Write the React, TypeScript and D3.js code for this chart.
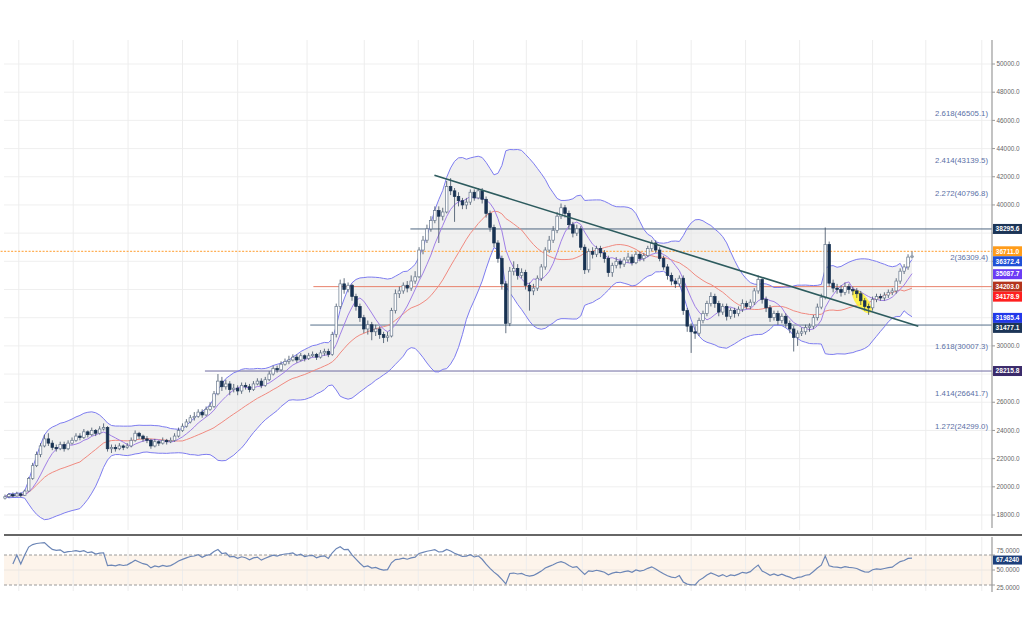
import React from 'react';
import * as d3 from 'd3';

// ---------- DATA ----------
const firstOpen = 19200;
const closes = [
  19300, 19450, 19350, 19500, 19400,
  19700, 20600, 21500, 22300, 22900, 23400,
  23100, 22800, 22700,
  23000, 22700, 23100, 23300, 23600, 23500,
  23900, 23700, 24000, 23800, 24100, 24200,
  22700,
  22800, 22700, 22900, 22800, 22900,
  23300, 23800, 23600, 23400,
  23300, 22900, 23200, 23100, 23300,
  23200, 23300, 23600, 24000,
  24300, 24600, 24900, 25000, 25300, 25100, 25500, 25700,
  26600, 27500, 27100, 27300,
  26900, 27000, 26800, 27200, 27100, 26900, 27300, 27500, 27200,
  27600, 28000, 28400, 28300, 28700, 28900, 29000, 29200, 29000,
  29300, 29100, 29300, 29400, 29200, 29500, 29600, 29400,
  30800, 32800, 34400,
  34000, 34300, 33500, 32800,
  32000, 31200, 31500,
  31000, 31200, 30800, 30600, 30700,
  32500, 33700,
  33900, 34300, 34100, 34600, 34900,
  36800, 37500, 38300, 38900,
  39600, 39200, 39500,
  41300, 41000,
  40600, 40300, 40000, 40200,
  40900, 40500, 41000, 40400,
  39400, 38400, 37300, 36200, 34400,
  31600,
  35300, 35500, 35000, 35200,
  34300, 33900, 34100,
  34800, 35600, 36800, 37500, 38200, 39200,
  39800, 39400, 38600, 38000, 38300,
  37000, 35400,
  36700, 36500, 36900, 36600, 36200,
  35200, 35700, 36000, 35800, 36100,
  36300, 35900, 36500, 36200, 36400,
  36900, 37300, 36800, 36200, 35600,
  35000, 34600, 34400, 34800,
  32500, 31400, 31000, 30900,
  31800, 32300, 33000, 33500,
  33000, 32400, 32800, 32100, 32500, 32300,
  32600, 33000, 32800, 33100, 33900, 34700,
  33300, 32700, 32000, 32300, 31800, 32100, 31600,
  31200, 30600, 30900, 31000, 31300, 31400,
  32000, 32750, 33450,
  37200, 34450,
  34100, 34000, 33800, 34200, 34000,
  33900, 33700,
  33200, 32800, 32700,
  33300, 33500, 33400,
  33600, 33800, 33900, 34600,
  35300, 35600, 36300, 36372.4,
];
const highs = [
  19450, 19550, 19600, 19650, 19600, 19800, 20700, 21700, 22500, 23100,
  23700, 23800, 23300, 23000, 23200, 23200, 23300, 23500, 23800, 23800,
  24100, 24000, 24200, 24100, 24300, 24500, 24300, 23000, 23000, 23100,
  23000, 23100, 23500, 24000, 23900, 23700, 23600, 23400, 23400, 23300,
  23500, 23400, 23500, 23800, 24200, 24500, 24800, 25100, 25300, 25500,
  25500, 25700, 26000, 26800, 28000, 27800, 27600, 27500, 27300, 27200,
  27400, 27400, 27300, 27500, 27700, 27700, 27800, 28200, 28600, 28600,
  28900, 29100, 29300, 29400, 29400, 29500, 29400, 29500, 29600, 29500,
  29700, 29800, 29800, 31000, 33000, 34700, 34800, 34500, 34400, 33700,
  33000, 32200, 31800, 31700, 31500, 31400, 31000, 31000, 32700, 34000,
  34200, 34500, 34600, 35000, 35300, 37000, 37800, 38600, 39200, 39900,
  39900, 39800, 41700, 41900, 41200, 40900, 40500, 40500, 41100, 41100,
  41200, 41200, 40600, 39600, 38600, 37500, 36400, 34600, 35600, 36000,
  35800, 35500, 35400, 34500, 34400, 35000, 35800, 37000, 37800, 38500,
  39500, 40100, 40000, 39600, 38800, 38600, 38500, 37200, 36900, 37000,
  37100, 37100, 36800, 36400, 35900, 36300, 36200, 36300, 36600, 36500,
  36700, 36700, 36600, 37100, 37500, 37500, 37000, 36400, 35800, 35200,
  34800, 35000, 35000, 32700, 31600, 31400, 32000, 32500, 33200, 33800,
  33700, 33200, 33000, 33000, 32700, 32700, 32800, 33300, 33200, 33300,
  34100, 35000, 34800, 33500, 32900, 32500, 32500, 32300, 32300, 31800,
  31400, 31100, 31300, 31500, 31600, 32200, 33000, 33700, 38400, 37400,
  34700, 34400, 34300, 34500, 34400, 34200, 34100, 33900, 33400, 33000,
  33500, 33700, 33700, 33800, 34000, 34100, 34800, 35500, 35800, 36500,
  36700,
];
const lows = [
  19100, 19200, 19250, 19300, 19250, 19350, 19650, 20500, 21400, 22100,
  22800, 22900, 22600, 22500, 22600, 22500, 22600, 23000, 23200, 23300,
  23400, 23500, 23600, 23600, 23700, 24000, 22500, 22400, 22500, 22600,
  22600, 22700, 22800, 23200, 23400, 23200, 23100, 22700, 22800, 22900,
  23000, 23000, 23100, 23200, 23500, 23900, 24200, 24500, 24700, 24900,
  24900, 25000, 25400, 25600, 26500, 26800, 26900, 26500, 26700, 26500,
  26600, 26900, 26700, 26800, 27200, 27000, 27100, 27500, 27900, 28100,
  28200, 28600, 28700, 28900, 28800, 28900, 28900, 29000, 29200, 29000,
  29100, 29300, 29200, 29300, 30600, 32600, 33700, 33800, 33200, 32500,
  31700, 30900, 30800, 30400, 30700, 30500, 30200, 30300, 30600, 32300,
  33400, 33700, 33800, 33900, 34400, 34800, 36500, 37300, 38100, 38700,
  37300, 38900, 39400, 40700, 38800, 39900, 39700, 39700, 40000, 40300,
  40400, 40100, 39100, 38100, 37000, 35900, 34000, 30900, 31400, 35000,
  34700, 34800, 34000, 32500, 33600, 33900, 34600, 35400, 36600, 37300,
  38000, 39000, 39100, 38300, 37700, 37800, 36800, 35100, 35200, 36200,
  36300, 36300, 35900, 34900, 34900, 35500, 35500, 35600, 35900, 35700,
  35800, 36000, 36000, 36300, 36700, 36600, 36000, 35400, 34700, 34300,
  34100, 34200, 32200, 31000, 29500, 30500, 30700, 31600, 32100, 32800,
  32700, 32100, 32200, 31800, 31900, 32000, 32100, 32400, 32600, 32600,
  32900, 33700, 33000, 32400, 31700, 31800, 31500, 31600, 31300, 30900,
  29600, 30000, 30700, 30800, 31000, 31200, 31800, 32600, 33300, 34200,
  33800, 33700, 33500, 33600, 33700, 33600, 33400, 32900, 32500, 32200,
  32500, 33100, 33200, 33200, 33400, 33600, 33700, 34400, 35100, 35400,
  36200,
];

const priceTicks = [50000, 48000, 46000, 44000, 42000, 40000, 38000, 36000, 34000, 32000, 30000, 28000, 26000, 24000, 22000, 20000, 18000];
// vertical time-grid positions, in candle index units
const timeGridIdx = [3.5, 17.3, 31.2, 45, 59, 76.6, 91.1, 104.8, 118.8, 132.2, 146.4, 160.2, 174, 187.8, 201.5, 220, 233.5, 247.7];

const fibRatios = ['2.618', '2.414', '2.272', '2', '1.618', '1.414', '1.272'];
const fibValues = [46505.1, 43139.5, 40796.8, 36309.4, 30007.3, 26641.7, 24299.0];

const levelValues = [38295.6, 36711.0, 34203.0, 31477.1, 28215.8];
const levelStartIdx = [102.8, -2, 78.2, 77.4, 50.7];

const tagValues = [38295.6, 36711.0, 36372.4, 35087.7, 34203.0, 34178.9, 31985.4, 31477.1, 28215.8];

const trendIdx = [108.9, 231.6];
const trendPrice = [42100, 31400];

const highlightIdx = 217.3;
const highlightPrice = 33150;

const rsiTicks = [75, 50, 25];
const rsiLastLabel = 67.424;
const rsiFirstDrawn = 2;

// ---------- STYLES ----------
const levelColors = ['#4d6680', '#ffb057', '#e8826c', '#56708a', '#6e6aa0'];
const levelDash = [null, '2,1.5', null, null, null];
const tagColors = ['#1c3557', '#ff9c1a', '#1f4fd6', '#6b3cf5', '#b3341d', '#ff1f1f', '#2238ea', '#1c3557', '#3b2b6b'];
const FONT = '"Liberation Sans", Arial, sans-serif';

export default function App() {
  const n = closes.length;
  const x = d3.scaleLinear().domain([0, n - 1]).range([5, 912]);
  const y = d3.scaleLinear().domain([18000, 50000]).range([515, 64]);
  const yr = d3.scaleLinear().domain([25, 75]).range([585, 555]);

  const opens = closes.map((c, i) => (i === 0 ? firstOpen : closes[i - 1]));

  const sma = (p: number) =>
    closes.map((_, i) => d3.mean(closes.slice(Math.max(0, i - p + 1), i + 1)) as number);
  const sma20 = sma(20);
  const sma7 = sma(7);
  const sd20 = closes.map((_, i) => {
    const w = closes.slice(Math.max(0, i - 19), i + 1);
    const m = d3.mean(w) as number;
    return Math.sqrt(d3.mean(w.map((v) => (v - m) * (v - m))) as number);
  });
  const upper = sma20.map((m, i) => m + 2 * sd20[i]);
  const lower = sma20.map((m, i) => m - 2 * sd20[i]);

  // RSI (Wilder, 14; averaged over the available changes while fewer than 14)
  const rsi: number[] = [50];
  let ag = 0, al = 0;
  for (let i = 1; i < n; i++) {
    const ch = closes[i] - closes[i - 1];
    const g = Math.max(ch, 0), l = Math.max(-ch, 0);
    const p = Math.min(i, 14);
    ag = (ag * (p - 1) + g) / p;
    al = (al * (p - 1) + l) / p;
    rsi.push(al === 0 ? 100 : 100 - 100 / (1 + ag / al));
  }

  const idx = d3.range(n);
  const lineGen = (arr: number[]) => d3.line<number>().x((i) => x(i)).y((i) => y(arr[i]))(idx) as string;
  const bandArea = d3.area<number>().x((i) => x(i)).y0((i) => y(lower[i])).y1((i) => y(upper[i]))(idx) as string;
  const rsiLine = d3.line<number>().x((i) => x(i)).y((i) => yr(rsi[i]))(idx.filter((i) => i >= rsiFirstDrawn)) as string;

  // tag positions with overlap resolution
  const tagY: number[] = [];
  tagValues.forEach((v, k) => {
    let yy = y(v);
    if (k > 0 && yy < tagY[k - 1] + 10) yy = tagY[k - 1] + 10;
    tagY.push(yy);
  });
  const tickHidden = (t: number) => tagY.some((ty) => Math.abs(ty - y(t)) < 8.5);

  const bw = 2.6;
  const axisX = 992;

  const hx = x(highlightIdx), hy = y(highlightPrice);

  return (
    <svg width={1024} height={630} style={{ position: 'absolute', left: 0, top: 0, background: '#fff' }} fontFamily={FONT}>
      <defs>
        <clipPath id="rsiClip">
          <rect x={0} y={537} width={1024} height={54} />
        </clipPath>
        <clipPath id="mainClip">
          <rect x={0} y={40} width={axisX} height={490} />
        </clipPath>
      </defs>
      <rect x={0} y={0} width={1024} height={630} fill="#fff" />

      {/* grid main */}
      {priceTicks.map((t) => (
        <line key={'h' + t} x1={4} x2={axisX} y1={y(t)} y2={y(t)} stroke="#efefef" strokeWidth={1} />
      ))}
      {timeGridIdx.map((g) => (
        <line key={'v' + g} x1={x(g)} x2={x(g)} y1={40} y2={530} stroke="#ededed" strokeWidth={1} />
      ))}

      <g clipPath="url(#mainClip)">
        {/* Bollinger fill */}
        <path d={bandArea} fill="#e4e4e4" opacity={0.55} />

        {/* horizontal levels */}
        {levelValues.map((v, k) => (
          <line
            key={'lv' + k}
            x1={x(levelStartIdx[k])}
            x2={axisX}
            y1={y(v)}
            y2={y(v)}
            stroke={levelColors[k]}
            strokeWidth={k === 1 ? 1.2 : 1}
            strokeDasharray={levelDash[k] || undefined}
          />
        ))}

        {/* bands and MAs */}
        <path d={lineGen(upper)} fill="none" stroke="#7d7cf0" strokeWidth={1} />
        <path d={lineGen(lower)} fill="none" stroke="#7d7cf0" strokeWidth={1} />
        <path d={lineGen(sma20)} fill="none" stroke="#f08a80" strokeWidth={1} />
        <path d={lineGen(sma7)} fill="none" stroke="#a07fe6" strokeWidth={1} />

        {/* highlight */}
        <ellipse
          cx={hx}
          cy={hy}
          rx={14}
          ry={6}
          fill="#fff23a"
          opacity={0.9}
          transform={`rotate(52 ${hx} ${hy})`}
        />

        {/* candles */}
        {idx.map((i) => {
          const o = opens[i], c = closes[i];
          const up = c >= o;
          const top = y(Math.max(o, c));
          const bot = y(Math.min(o, c));
          const cx = x(i);
          return (
            <g key={'c' + i}>
              <line x1={cx} x2={cx} y1={y(highs[i])} y2={y(lows[i])} stroke="#3e4e62" strokeWidth={0.8} />
              <rect
                x={cx - bw / 2}
                y={top}
                width={bw}
                height={Math.max(bot - top, 0.8)}
                fill={up ? '#ffffff' : '#183252'}
                stroke={up ? '#6a7a8e' : '#183252'}
                strokeWidth={0.7}
              />
            </g>
          );
        })}

        {/* trendline */}
        <line
          x1={x(trendIdx[0])}
          y1={y(trendPrice[0])}
          x2={x(trendIdx[1])}
          y2={y(trendPrice[1])}
          stroke="#2d5b5e"
          strokeWidth={1.6}
        />

        {/* fib labels */}
        {fibValues.map((v, k) => (
          <text key={'f' + k} x={988} y={y(v)} dy="0.35em" textAnchor="end" fontSize={7.8} fill="#5b70a6">
            {`${fibRatios[k]}(${v.toFixed(1)})`}
          </text>
        ))}
      </g>

      {/* main axis */}
      <line x1={axisX} x2={axisX} y1={40} y2={528} stroke="#9a9a9a" strokeWidth={1.2} />
      {priceTicks.map((t) => (
        <g key={'pt' + t}>
          <line x1={axisX} x2={axisX + 3} y1={y(t)} y2={y(t)} stroke="#9a9a9a" />
          {!tickHidden(t) && (
            <text x={axisX + 4.5} y={y(t)} dy="0.35em" fontSize={6.4} fill="#666">
              {t.toFixed(1)}
            </text>
          )}
        </g>
      ))}

      {/* price tags */}
      {tagValues.map((v, k) => (
        <g key={'tg' + k}>
          <rect x={axisX + 1} y={tagY[k] - 5} width={29} height={10} fill={tagColors[k]} />
          <text x={axisX + 15.5} y={tagY[k]} dy="0.35em" textAnchor="middle" fontSize={6.6} fill="#fff" fontWeight="bold">
            {v.toFixed(1)}
          </text>
        </g>
      ))}

      {/* separator */}
      <line x1={4} x2={1022} y1={535} y2={535} stroke="#666" strokeWidth={2} />

      {/* RSI panel */}
      <rect x={4} y={yr(75)} width={axisX - 4} height={yr(25) - yr(75)} fill="#fdf1e6" opacity={0.8} />
      {timeGridIdx.map((g) => (
        <line key={'rv' + g} x1={x(g)} x2={x(g)} y1={537} y2={591} stroke="#ededed" strokeWidth={1} />
      ))}
      <line x1={4} x2={axisX} y1={yr(50)} y2={yr(50)} stroke="#ece6e0" strokeWidth={1} />
      {[75, 25].map((t) => (
        <line key={'rd' + t} x1={4} x2={axisX} y1={yr(t)} y2={yr(t)} stroke="#9a9a9a" strokeDasharray="3,2" strokeWidth={1} />
      ))}
      <path d={rsiLine} fill="none" stroke="#6c86b6" strokeWidth={1.2} />
      <line x1={axisX} x2={axisX} y1={537} y2={592} stroke="#9a9a9a" strokeWidth={1.2} />
      <g clipPath="url(#rsiClip)">
        {rsiTicks.map((t) => (
          <g key={'rt' + t}>
            <line x1={axisX} x2={axisX + 3} y1={yr(t)} y2={yr(t)} stroke="#9a9a9a" />
            {t !== 75 && (
              <text x={axisX + 4.5} y={yr(t) + (t === 25 ? 3 : 0)} dy="0.35em" fontSize={6.4} fill="#666">
                {t.toFixed(4)}
              </text>
            )}
          </g>
        ))}
        <text x={axisX + 4.5} y={yr(75) - 4} dy="0.35em" fontSize={6.4} fill="#666">
          {(75).toFixed(4)}
        </text>
      </g>
      <rect x={axisX + 1} y={yr(rsiLastLabel) - 4} width={29} height={9} fill="#1d3f7a" />
      <text x={axisX + 15.5} y={yr(rsiLastLabel) + 0.5} dy="0.35em" textAnchor="middle" fontSize={6.4} fill="#fff" fontWeight="bold">
        {rsiLastLabel.toFixed(4)}
      </text>
    </svg>
  );
}
